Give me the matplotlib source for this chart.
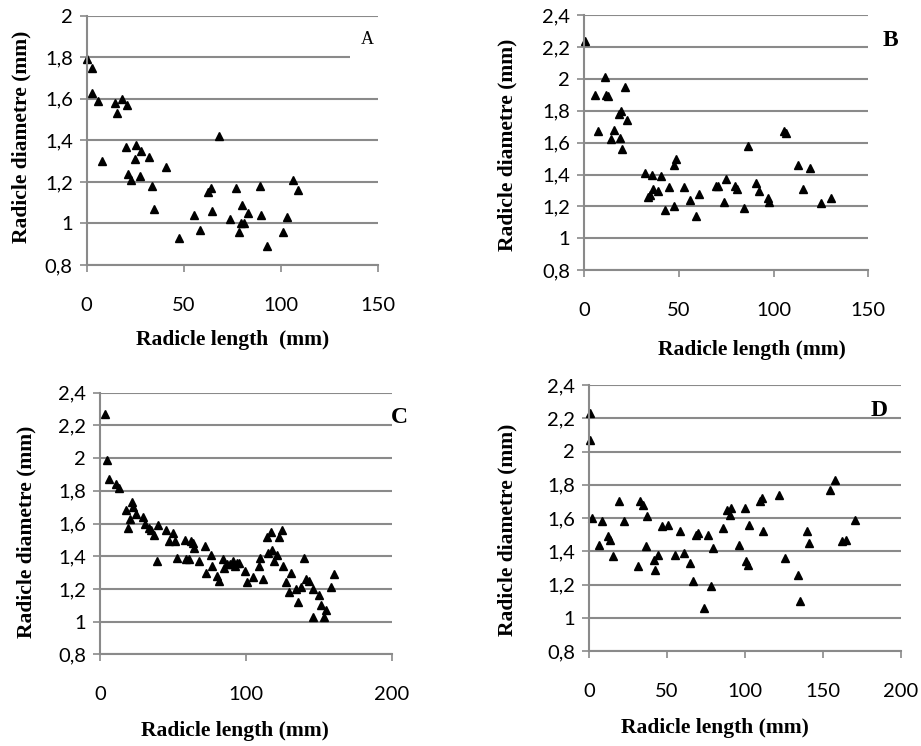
import numpy as np
import matplotlib.pyplot as plt
from matplotlib.patches import Rectangle

# Panel A data
a_len = [0, 2.6, 2.9, 6.0, 7.7, 14.5, 15.7, 18.4, 21.0, 20.1, 25.4, 28.0, 24.9, 32.1,
         21.3, 22.7, 27.3, 33.6, 40.8, 34.5, 47.4, 55.1, 58.2, 62.3, 64.3, 64.7, 68.1,
         74.1, 77.1, 79.9, 82.9, 79.4, 80.9, 78.5, 89.2, 90.1, 92.8, 101.2, 103.4, 106.1, 109.0]
a_diam = [1.79, 1.75, 1.63, 1.59, 1.30, 1.58, 1.53, 1.60, 1.57, 1.37, 1.38, 1.35, 1.31, 1.32,
          1.24, 1.21, 1.23, 1.18, 1.27, 1.07, 0.93, 1.04, 0.97, 1.15, 1.17, 1.06, 1.42,
          1.02, 1.17, 1.09, 1.05, 1.00, 1.00, 0.96, 1.18, 1.04, 0.89, 0.96, 1.03, 1.21, 1.16]

# Panel B data
b_len = [0.5, 5.6, 7.4, 10.9, 11.4, 12.5, 15.6, 14.4, 18.6, 19.7, 19.0, 20.2, 21.8, 22.7,
         32.4, 33.9, 34.6, 35.9, 36.4, 38.9, 40.6, 42.9, 44.8, 47.3, 47.7, 48.7, 52.8,
         56.1, 58.9, 60.7, 69.5, 70.7, 73.7, 75.1, 79.7, 80.9, 84.6, 86.3, 90.9, 92.3,
         96.9, 97.6, 105.7, 106.7, 112.7, 115.7, 119.0, 124.8, 130.1]
b_diam = [2.24, 1.90, 1.67, 2.01, 1.90, 1.89, 1.68, 1.62, 1.78, 1.80, 1.63, 1.56, 1.95, 1.74,
          1.41, 1.26, 1.27, 1.40, 1.31, 1.30, 1.39, 1.18, 1.32, 1.20, 1.46, 1.50, 1.32,
          1.24, 1.14, 1.28, 1.33, 1.33, 1.23, 1.37, 1.33, 1.31, 1.19, 1.58, 1.35, 1.30,
          1.25, 1.23, 1.67, 1.66, 1.46, 1.31, 1.44, 1.22, 1.25]

# Panel C data
c_len = [3.7, 5.0, 6.4, 10.7, 13.0, 17.8, 19.2, 20.6, 22.2, 22.9, 24.9, 29.3, 30.6, 33.6,
         35.0, 37.0, 40.0, 39.3, 45.3, 47.5, 50.3, 51.7, 53.0, 58.1, 59.2, 61.0, 62.6,
         64.0, 64.7, 67.7, 72.0, 72.9, 75.9, 77.0, 80.5, 81.8, 84.3, 85.3, 86.9, 89.1,
         90.9, 92.6, 93.9, 95.3, 99.2, 101.0, 105.1, 109.0, 110.0, 111.8, 114.3, 115.4,
         117.3, 118.2, 119.3, 121.1, 122.5, 124.6, 125.5, 127.5, 129.8, 131.2, 134.4,
         136.0, 138.1, 139.9, 141.3, 143.5, 145.8, 146.3, 150.2, 151.3, 153.6, 155.2,
         158.2, 160.2]
c_diam = [2.27, 1.99, 1.87, 1.84, 1.82, 1.68, 1.57, 1.63, 1.73, 1.70, 1.66, 1.64, 1.60, 1.57,
          1.56, 1.53, 1.59, 1.37, 1.56, 1.49, 1.54, 1.49, 1.39, 1.50, 1.38, 1.38, 1.49,
          1.48, 1.45, 1.37, 1.46, 1.30, 1.41, 1.34, 1.28, 1.25, 1.38, 1.33, 1.35, 1.35,
          1.37, 1.34, 1.36, 1.36, 1.31, 1.24, 1.27, 1.34, 1.39, 1.26, 1.52, 1.42,
          1.55, 1.44, 1.37, 1.41, 1.52, 1.56, 1.34, 1.24, 1.18, 1.30, 1.20,
          1.12, 1.21, 1.39, 1.26, 1.25, 1.03, 1.20, 1.16, 1.10, 1.03, 1.07,
          1.21, 1.29]

# Panel D data
d_len = [0.6, 0.4, 2.1, 6.4, 8.3, 12.0, 13.7, 15.2, 19.4, 22.2, 31.4, 32.9, 34.4, 36.3,
         37.2, 41.5, 42.3, 44.2, 46.8, 50.4, 54.9, 58.1, 61.1, 65.0, 66.9, 68.4, 69.9,
         73.7, 76.1, 78.2, 79.7, 86.1, 88.5, 90.4, 91.3, 96.4, 100.0, 100.9, 101.7, 102.4,
         109.6, 110.9, 111.8, 121.6, 125.9, 134.2, 135.3, 139.5, 140.8, 154.3, 157.7,
         162.2, 164.7, 170.5]
d_diam = [2.23, 2.07, 1.60, 1.44, 1.58, 1.49, 1.47, 1.37, 1.70, 1.58, 1.31, 1.70, 1.68, 1.43,
          1.61, 1.35, 1.29, 1.38, 1.55, 1.56, 1.38, 1.52, 1.39, 1.33, 1.22, 1.50, 1.51,
          1.06, 1.50, 1.19, 1.42, 1.54, 1.65, 1.62, 1.66, 1.44, 1.66, 1.34, 1.32, 1.56,
          1.70, 1.72, 1.52, 1.74, 1.36, 1.26, 1.10, 1.52, 1.45, 1.77, 1.83,
          1.46, 1.47, 1.59]

W, H = 921, 746
fig = plt.figure(figsize=(W / 100, H / 100), dpi=100)

GRAY = '#8a8a8a'
TICK_FONT = 'Lato'
LABEL_FONT = 'Liberation Serif'


def px_axes(left, top, right, bottom):
    return fig.add_axes([left / W, 1 - bottom / H, (right - left) / W, (bottom - top) / H])


def style(ax, xmax, xstep, ymin, ymax):
    ax.set_xlim(0, xmax)
    ax.set_ylim(ymin, ymax)
    ax.set_xticks(np.arange(0, xmax + 1, xstep))
    yt = np.round(np.arange(ymin, ymax + 0.001, 0.2), 1)
    ax.set_yticks(yt)
    ax.set_yticklabels([('%g' % v).replace('.', ',') for v in yt])
    for s in ['top', 'right']:
        ax.spines[s].set_visible(False)
    for s in ['left', 'bottom']:
        ax.spines[s].set_color(GRAY)
        ax.spines[s].set_linewidth(1.5)
    ax.grid(axis='y', color=GRAY, linewidth=1.5)
    ax.set_axisbelow(True)
    ax.tick_params(axis='both', direction='out', length=5, width=1.2, color=GRAY,
                   labelsize=14.5)
    ax.tick_params(axis='x', pad=18)
    ax.tick_params(axis='y', pad=5)
    for lab in ax.get_xticklabels() + ax.get_yticklabels():
        lab.set_fontfamily(TICK_FONT)


def label(x, y, s, rot=0):
    fig.text(x / W, 1 - y / H, s, ha='center', va='center', rotation=rot,
             fontfamily=LABEL_FONT, fontweight='bold', fontsize=15.5)


def scatter(ax, x, y):
    ax.plot(x, y, '^', color='black', ms=5.5, clip_on=False)


# A
ax = px_axes(86.7, 15.7, 377.7, 265)
scatter(ax, a_len, a_diam)
style(ax, 150, 50, 0.8, 2.0)
label(233, 340, 'Radicle length  (mm)')
label(21, 137, 'Radicle diametre (mm)', 90)
fig.add_artist(Rectangle((350 / W, 1 - 62 / H), 45 / W, 42 / H, transform=fig.transFigure,
                         facecolor='white', edgecolor='none', zorder=5))
fig.text(367 / W, 1 - 40 / H, 'A', ha='center', va='center', fontfamily=LABEL_FONT,
         fontsize=13, zorder=6)

# B
ax = px_axes(584, 15, 868.3, 270.3)
scatter(ax, b_len, b_diam)
style(ax, 150, 50, 0.8, 2.4)
label(752, 350, 'Radicle length (mm)')
label(507, 145, 'Radicle diametre (mm)', 90)
fig.text(890 / W, 1 - 41 / H, 'B', ha='center', va='center', fontfamily=LABEL_FONT,
         fontweight='bold', fontsize=17)

# C
ax = px_axes(100, 392.7, 391.7, 654.3)
scatter(ax, c_len, c_diam)
style(ax, 200, 100, 0.8, 2.4)
label(235, 731, 'Radicle length (mm)')
label(26, 532, 'Radicle diametre (mm)', 90)
fig.text(399 / W, 1 - 417 / H, 'C', ha='center', va='center', fontfamily=LABEL_FONT,
         fontweight='bold', fontsize=17)

# D
ax = px_axes(589, 385, 901, 651)
scatter(ax, d_len, d_diam)
style(ax, 200, 50, 0.8, 2.4)
label(715, 728, 'Radicle length (mm)')
label(507, 530, 'Radicle diametre (mm)', 90)
fig.text(879 / W, 1 - 410 / H, 'D', ha='center', va='center', fontfamily=LABEL_FONT,
         fontweight='bold', fontsize=17)

fig.savefig('out.png', dpi=100)
